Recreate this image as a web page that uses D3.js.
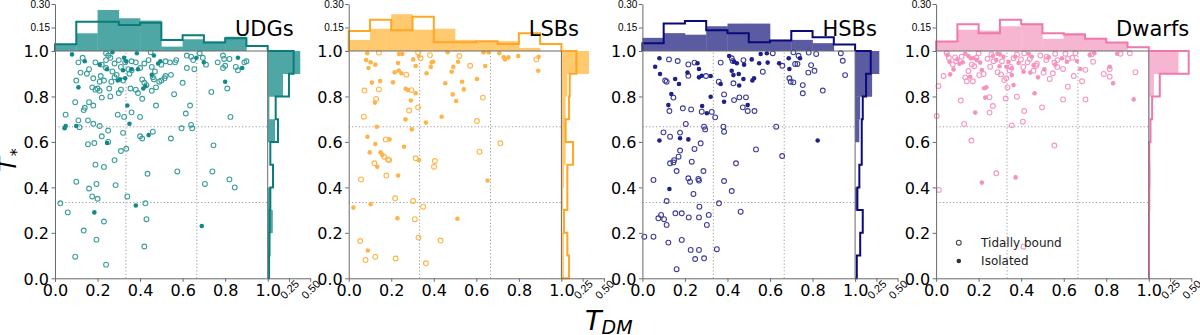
<!DOCTYPE html>
<html><head><meta charset="utf-8">
<script src="https://cdn.jsdelivr.net/npm/d3@7"></script>
<style>
html,body{margin:0;padding:0;background:#fff;}
svg{display:block;font-family:"DejaVu Sans",sans-serif;}
</style></head>
<body><svg id="c" width="1200" height="335"></svg>
<script>
// ---------------- DATA ----------------
const categories = ["UDGs", "LSBs", "HSBs", "Dwarfs"];
const binEdges = [0, 0.1, 0.2, 0.3, 0.4, 0.5, 0.6, 0.7, 0.8, 0.9, 1.0];
const xTicks = [0, 0.2, 0.4, 0.6, 0.8, 1.0];
const yTicks = [0, 0.2, 0.4, 0.6, 0.8, 1.0];
const topHistTicks = [0.15, 0.30];
const rightHistTicks = [0.25, 0.50];
const legendLabels = ["Tidally bound", "Isolated"];

// UDGs
const udgTidalX = [0.11,0.19,0.16,0.12,0.15,0.10,0.24,0.25,0.26,0.24,0.22,0.24,0.28,0.31,0.36,0.38,0.42,0.45,0.40,0.36,0.345,0.455,0.52,0.54,0.565,0.62,0.64,0.65,0.68,0.695,0.62,0.655,0.765,0.79,0.795,0.82,0.80,0.79,0.86,0.89,0.90,0.215,0.23,0.21,0.175,0.19,0.20,0.21,0.22,0.26,0.255,0.265,0.28,0.29,0.30,0.31,0.32,0.355,0.38,0.39,0.41,0.41,0.42,0.43,0.455,0.475,0.46,0.465,0.49,0.50,0.515,0.545,0.52,0.56,0.60,0.735,0.81,0.095,0.16,0.135,0.18,0.14,0.05,0.11,0.155,0.115,0.18,0.21,0.25,0.295,0.325,0.36,0.40,0.32,0.40,0.41,0.46,0.475,0.595,0.615,0.635,0.64,0.645,0.545,0.825,0.745,0.185,0.155,0.22,0.25,0.31,0.335,0.28,0.19,0.23,0.575,0.10,0.195,0.285,0.16,0.175,0.20,0.025,0.06,0.135,0.23,0.195,0.095,0.24,0.34,0.425,0.435,0.43,0.42,0.705,0.74,0.82,0.845,0.13,0.30,0.33,0.44,0.50,0.27,0.35,0.47,0.18,0.57,0.71,0.85];
const udgTidalY = [0.95,0.95,0.92,0.905,0.90,0.87,0.99,0.98,0.97,0.96,0.94,0.925,0.945,0.93,0.955,0.95,0.945,0.995,0.925,0.915,0.92,0.93,0.955,0.95,0.95,0.98,0.975,0.96,0.99,0.97,0.925,0.92,0.95,0.98,0.965,0.965,0.935,0.925,0.915,0.95,0.955,0.89,0.87,0.865,0.84,0.83,0.835,0.825,0.795,0.80,0.835,0.865,0.885,0.895,0.815,0.83,0.87,0.835,0.83,0.815,0.79,0.875,0.86,0.85,0.825,0.84,0.885,0.875,0.865,0.87,0.88,0.895,0.89,0.81,0.86,0.82,0.835,0.775,0.775,0.74,0.76,0.75,0.72,0.695,0.695,0.665,0.68,0.67,0.65,0.72,0.71,0.73,0.71,0.64,0.625,0.615,0.645,0.76,0.66,0.725,0.76,0.675,0.66,0.615,0.71,0.585,0.595,0.59,0.625,0.60,0.56,0.57,0.52,0.50,0.49,0.47,0.425,0.415,0.41,0.395,0.36,0.35,0.33,0.29,0.21,0.25,0.17,0.095,0.06,0.36,0.33,0.46,0.26,0.14,0.415,0.47,0.435,0.40,0.97,0.96,0.95,0.96,0.94,0.91,0.90,0.91,0.88,0.96,0.94,0.93];
const udgIsoX = [0.08,0.14,0.21,0.245,0.27,0.325,0.335,0.385,0.32,0.36,0.39,0.465,0.485,0.495,0.665,0.70,0.86,0.88,0.11,0.295,0.305,0.33,0.415,0.425,0.455,0.80,0.34,0.35,0.045,0.05,0.10,0.245,0.44,0.185,0.38,0.69];
const udgIsoY = [0.985,0.955,0.94,0.92,0.995,0.97,0.955,0.99,0.915,0.92,0.92,0.98,0.945,0.955,0.97,0.95,0.97,0.925,0.84,0.87,0.875,0.88,0.835,0.845,0.895,0.865,0.76,0.68,0.66,0.67,0.67,0.595,0.63,0.29,0.32,0.23];
const udgTopTidal = [0.043,0.187,0.187,0.166,0.181,0.070,0.100,0.055,0.081,0.032];
const udgTopIso = [0.038,0.113,0.262,0.209,0.194,0.028,0.075,0.060,0.091,0.0];
const udgRightTidal = [0.016,0.020,0.023,0.031,0.0625,0.031,0.121,0.094,0.250,0.305];
const udgRightIso = [0.0,0.03,0.06,0.03,0.0,0.0,0.086,0.02,0.18,0.383];

// LSBs
const lsbTidalX = [0.142,0.074,0.142,0.129,0.071,0.271,0.295,0.284,0.326,0.326,0.338,0.382,0.52,0.571,0.631,0.603,0.615,0.713,0.882,0.174,0.121,0.166,0.185,0.315,0.405,0.401,0.058,0.177,0.218,0.303,0.35,0.311,0.054,0.328,0.432,0.079,0.125,0.221,0.363,0.19];
const lsbTidalY = [0.993,0.826,0.831,0.789,0.711,0.896,0.828,0.738,0.752,0.994,0.968,0.982,0.978,0.935,0.795,0.692,0.557,0.594,0.963,0.611,0.506,0.535,0.523,0.528,0.516,0.491,0.435,0.452,0.352,0.34,0.315,0.26,0.164,0.179,0.166,0.081,0.095,0.087,0.066,0.52];
const lsbIsoX = [0.087,0.082,0.103,0.125,0.093,0.237,0.252,0.232,0.216,0.235,0.248,0.303,0.315,0.33,0.366,0.39,0.397,0.386,0.465,0.484,0.492,0.514,0.109,0.148,0.208,0.268,0.279,0.315,0.292,0.267,0.297,0.123,0.132,0.363,0.437,0.454,0.489,0.533,0.541,0.505,0.603,0.642,0.634,0.658,0.708,0.729,0.735,0.751,0.797,0.893,0.891,0.088,0.099,0.125,0.15,0.158,0.192,0.26,0.134,0.33,0.232,0.022,0.103,0.229,0.09,0.511,0.653];
const lsbIsoY = [0.99,0.96,0.95,0.94,0.925,0.987,0.987,0.947,0.906,0.914,0.902,0.963,0.934,0.978,0.902,0.95,0.953,0.93,0.994,0.909,0.93,0.953,0.861,0.868,0.862,0.834,0.828,0.814,0.782,0.699,0.655,0.773,0.667,0.685,0.711,0.858,0.809,0.865,0.831,0.78,0.877,0.934,0.994,0.994,0.99,0.972,0.963,0.972,0.978,0.975,0.913,0.623,0.554,0.591,0.554,0.543,0.611,0.579,0.491,0.52,0.452,0.311,0.326,0.264,0.122,0.262,0.43];
const lsbTopTidal = [0.127,0.200,0.132,0.218,0.056,0.056,0.063,0.045,0.114,0.045];
const lsbTopIso = [0.071,0.142,0.235,0.136,0.142,0.071,0.063,0.063,0.02,0.0];
const lsbRightTidal = [0.09,0.07,0.03,0.07,0.07,0.137,0.05,0.09,0.098,0.176];
const lsbRightIso = [0.03,0.03,0.01,0.02,0.03,0.05,0.05,0.05,0.07,0.324];

// HSBs
const hsbTidalX = [0.125,0.166,0.216,0.245,0.216,0.299,0.107,0.114,0.146,0.127,0.19,0.229,0.368,0.359,0.384,0.279,0.326,0.342,0.42,0.425,0.475,0.428,0.431,0.456,0.487,0.472,0.495,0.527,0.566,0.613,0.658,0.71,0.734,0.782,0.817,0.718,0.729,0.691,0.697,0.71,0.754,0.754,0.78,0.809,0.793,0.848,0.933,0.942,0.953,0.629,0.657,0.534,0.44,0.29,0.295,0.381,0.384,0.099,0.13,0.177,0.204,0.245,0.274,0.177,0.17,0.146,0.13,0.232,0.149,0.052,0.161,0.216,0.224,0.263,0.266,0.287,0.24,0.384,0.42,0.36,0.268,0.114,0.155,0.185,0.088,0.075,0.102,0.114,0.218,0.266,0.312,0.303,0.462,0.009,0.052,0.122,0.185,0.227,0.266,0.35,0.248,0.29,0.161];
const hsbTidalY = [0.963,0.956,0.941,0.949,0.891,0.89,0.87,0.865,0.795,0.736,0.748,0.743,0.949,0.865,0.809,0.733,0.732,0.708,0.968,0.956,0.96,0.858,0.784,0.796,0.796,0.752,0.736,0.736,0.909,0.99,0.935,0.994,0.979,0.993,0.987,0.943,0.943,0.88,0.865,0.862,0.85,0.814,0.905,0.913,0.938,0.826,0.99,0.957,0.894,0.667,0.538,0.567,0.506,0.667,0.655,0.667,0.645,0.642,0.623,0.641,0.679,0.569,0.594,0.562,0.535,0.51,0.506,0.513,0.52,0.433,0.472,0.44,0.425,0.437,0.43,0.472,0.371,0.428,0.384,0.33,0.315,0.34,0.286,0.286,0.279,0.264,0.26,0.235,0.268,0.268,0.279,0.235,0.293,0.183,0.183,0.157,0.169,0.125,0.125,0.128,0.085,0.088,0.04];
const hsbIsoX = [0.08,0.06,0.083,0.154,0.172,0.136,0.122,0.212,0.266,0.266,0.279,0.259,0.321,0.281,0.303,0.321,0.384,0.368,0.408,0.42,0.431,0.444,0.428,0.455,0.475,0.453,0.478,0.514,0.517,0.525,0.549,0.556,0.585,0.589,0.643,0.688,0.691,0.741,0.824,0.495,0.08,0.177,0.216,0.127];
const hsbIsoY = [0.968,0.931,0.899,0.877,0.855,0.811,0.762,0.905,0.921,0.884,0.891,0.946,0.89,0.758,0.726,0.799,0.777,0.855,0.978,0.913,0.953,0.946,0.894,0.848,0.877,0.899,0.94,0.963,0.87,0.88,0.946,0.987,0.99,0.949,0.946,0.968,0.921,0.968,0.606,0.762,0.606,0.616,0.611,0.393];
const hsbTopTidal = [0.05,0.175,0.192,0.132,0.114,0.056,0.067,0.127,0.088,0.041];
const hsbTopIso = [0.084,0.114,0.104,0.158,0.175,0.175,0.071,0.071,0.05,0.0];
const hsbRightTidal = [0.02,0.06,0.09,0.027,0.05,0.078,0.078,0.09,0.129,0.184];
const hsbRightIso = [0.0,0.0,0.0,0.027,0.0,0.0,0.05,0.06,0.2,0.285];

// Dwarfs
const dwfTidalX = [0.035,0.011,0.003,0.05,0.078,0.089,0.137,0.144,0.173,0.152,0.168,0.179,0.203,0.223,0.254,0.242,0.289,0.305,0.32,0.336,0.327,0.356,0.408,0.414,0.38,0.364,0.399,0.414,0.474,0.458,0.505,0.498,0.534,0.549,0.56,0.556,0.597,0.619,0.597,0.647,0.686,0.655,0.702,0.702,0.738,0.788,0.816,0.816,0.911,0.937,0.867,0.116,0.251,0.267,0.251,0.132,0.166,0.556,0.518,0.608,0.013,0.283,0.411,0.12,0.26,0.31,0.35,0.44,0.47,0.57,0.64,0.2,0.38,0.43,0.52,0.06,0.33,0.27,0.49,0.62,0.73,0.57,0.095,0.19,0.41,0.345];
const dwfTidalY = [0.89,0.846,0.714,0.99,0.941,0.972,0.884,0.867,0.867,0.912,0.941,0.933,0.894,0.899,0.931,0.966,0.907,0.897,0.872,0.84,0.791,0.673,0.689,0.736,0.799,0.968,0.963,0.99,0.944,0.913,0.905,0.752,0.877,0.902,0.988,0.949,0.921,0.843,0.787,0.89,0.867,0.99,0.917,0.787,0.953,0.899,0.921,0.887,0.99,0.907,0.988,0.782,0.797,0.758,0.729,0.679,0.606,0.584,0.96,0.988,0.389,0.462,0.139,0.975,0.985,0.955,0.93,0.965,0.935,0.96,0.97,0.99,0.985,0.95,0.975,0.97,0.88,0.955,0.98,0.965,0.985,0.93,0.955,0.97,0.93,0.915];
const dwfIsoX = [0.053,0.063,0.066,0.082,0.1,0.11,0.137,0.152,0.163,0.176,0.191,0.207,0.215,0.226,0.236,0.231,0.184,0.16,0.267,0.283,0.289,0.298,0.317,0.33,0.341,0.356,0.364,0.372,0.388,0.411,0.435,0.443,0.463,0.479,0.509,0.529,0.592,0.615,0.662,0.678,0.722,0.744,0.816,0.832,0.851,0.929,0.356,0.458,0.215,0.374,0.125,0.3,0.45,0.56];
const dwfIsoY = [0.982,0.953,0.897,0.919,0.963,0.944,0.988,0.978,0.968,0.968,0.96,0.949,0.916,0.836,0.84,0.795,0.729,0.887,0.978,0.96,0.988,0.933,0.975,0.931,0.953,0.924,0.85,0.975,0.947,0.909,0.988,0.905,0.814,0.884,0.919,0.972,0.968,0.953,0.956,0.921,0.982,0.99,0.931,0.858,0.988,0.787,0.894,0.937,0.421,0.444,0.95,0.985,0.975,0.94];
const dwfTopTidal = [0.06,0.17,0.114,0.20,0.17,0.114,0.106,0.078,0.054,0.024];
const dwfTopIso = [0.06,0.136,0.13,0.158,0.175,0.078,0.114,0.084,0.056,0.0];
const dwfRightTidal = [0.003,0.003,0.003,0.006,0.006,0.006,0.02,0.039,0.129,0.469];
const dwfRightIso = [0.0,0.0,0.0,0.0,0.02,0.0,0.0,0.01,0.06,0.35];

// ---------------- STYLE / LAYOUT ----------------
const panels = [
  {name: categories[0], tx: udgTidalX, ty: udgTidalY, ix: udgIsoX, iy: udgIsoY, topT: udgTopTidal, topI: udgTopIso, rT: udgRightTidal, rI: udgRightIso,
   line: "#0a7d7b", fill: "#4fa7a5", open: "#3c9e9b", dot: "#138a87"},
  {name: categories[1], tx: lsbTidalX, ty: lsbTidalY, ix: lsbIsoX, iy: lsbIsoY, topT: lsbTopTidal, topI: lsbTopIso, rT: lsbRightTidal, rI: lsbRightIso,
   line: "#ffa625", fill: "#ffc970", open: "#ffb447", dot: "#ffb447"},
  {name: categories[2], tx: hsbTidalX, ty: hsbTidalY, ix: hsbIsoX, iy: hsbIsoY, topT: hsbTopTidal, topI: hsbTopIso, rT: hsbRightTidal, rI: hsbRightIso,
   line: "#0a0a7a", fill: "#5b5ba2", open: "#3d3d98", dot: "#20208a"},
  {name: categories[3], tx: dwfTidalX, ty: dwfTidalY, ix: dwfIsoX, iy: dwfIsoY, topT: dwfTopTidal, topI: dwfTopIso, rT: dwfRightTidal, rI: dwfRightIso,
   line: "#ef78ad", fill: "#f6b5d1", open: "#f596c2", dot: "#f592bf"}
];

const svg = d3.select("#c");
const spine = "#6a6a6a";
const W0 = 55, STEP = 293.7, PW = 212.7, TOP = 51, BOT = 278.3, HTOP = 4, RW = 42.5;

panels.forEach((p, i) => {
  const L = W0 + i * STEP, R = L + PW;
  const x = d3.scaleLinear().domain([0, 1]).range([L, R]);
  const y = d3.scaleLinear().domain([0, 1]).range([BOT, TOP]);
  const ht = d3.scaleLinear().domain([0, 0.3]).range([TOP, HTOP]);
  const hr = d3.scaleLinear().domain([0, 0.5]).range([R, R + RW]);
  const g = svg.append("g");

  // dotted guides
  [1/3, 2/3].forEach(v => {
    g.append("line").attr("x1", x(v)).attr("x2", x(v)).attr("y1", y(0)).attr("y2", y(1))
      .attr("stroke", "#9a9a9a").attr("stroke-width", 1).attr("stroke-dasharray", "1.2,2.2");
    g.append("line").attr("x1", x(0)).attr("x2", x(1)).attr("y1", y(v)).attr("y2", y(v))
      .attr("stroke", "#9a9a9a").attr("stroke-width", 1).attr("stroke-dasharray", "1.2,2.2");
  });

  // top histogram
  const bins = d3.range(10);
  g.selectAll(".tf").data(bins).enter().append("rect")
    .attr("x", k => x(binEdges[k])).attr("width", k => x(binEdges[k+1]) - x(binEdges[k]) + 0.3)
    .attr("y", k => ht(p.topI[k])).attr("height", k => ht(0) - ht(p.topI[k]))
    .attr("fill", p.fill);
  const topPts = [[x(0), ht(0)]];
  bins.forEach(k => { topPts.push([x(binEdges[k]), ht(p.topT[k])]); topPts.push([x(binEdges[k+1]), ht(p.topT[k])]); });
  topPts.push([x(1), ht(0)]);
  g.append("path").attr("d", d3.line()(topPts)).attr("fill", "none").attr("stroke", p.line).attr("stroke-width", 2);

  // right histogram
  g.selectAll(".rf").data(bins).enter().append("rect")
    .attr("x", hr(0)).attr("width", k => hr(p.rI[k]) - hr(0))
    .attr("y", k => y(binEdges[k+1])).attr("height", k => y(binEdges[k]) - y(binEdges[k+1]) + 0.3)
    .attr("fill", p.fill);
  const rPts = [[hr(0), y(0)]];
  bins.forEach(k => { rPts.push([hr(p.rT[k]), y(binEdges[k])]); rPts.push([hr(p.rT[k]), y(binEdges[k+1])]); });
  rPts.push([hr(0), y(1)]);
  g.append("path").attr("d", d3.line()(rPts)).attr("fill", "none").attr("stroke", p.line).attr("stroke-width", 2);

  // scatter
  const tid = p.tx.map((v, k) => [v, p.ty[k]]);
  const iso = p.ix.map((v, k) => [v, p.iy[k]]);
  g.selectAll(".o").data(tid).enter().append("circle")
    .attr("cx", d => x(d[0])).attr("cy", d => y(d[1])).attr("r", 2.4)
    .attr("fill", "none").attr("stroke", p.open).attr("stroke-width", 1.1);
  g.selectAll(".f").data(iso).enter().append("circle")
    .attr("cx", d => x(d[0])).attr("cy", d => y(d[1])).attr("r", 2.3)
    .attr("fill", p.dot);

  // spines / box
  g.append("line").attr("x1", L).attr("x2", R).attr("y1", TOP).attr("y2", TOP).attr("stroke", spine).attr("stroke-width", 1);
  g.append("line").attr("x1", R).attr("x2", R).attr("y1", TOP).attr("y2", BOT).attr("stroke", spine).attr("stroke-width", 1);

  // axes
  const ax = g.append("g").attr("transform", `translate(0,${BOT})`)
    .call(d3.axisBottom(x).tickValues(xTicks).tickFormat(d3.format(".1f")).tickSize(3.5).tickSizeOuter(0));
  const ay = g.append("g").attr("transform", `translate(${L},0)`)
    .call(d3.axisLeft(y).tickValues(yTicks).tickFormat(d3.format(".1f")).tickSize(3.5).tickSizeOuter(0));
  [ax, ay].forEach(a => {
    a.select(".domain").attr("stroke", spine);
    a.selectAll(".tick line").attr("stroke", spine);
    a.selectAll("text").attr("font-size", 16).attr("font-family", "DejaVu Sans").attr("fill", "#000");
  });
  ax.selectAll("text").attr("dy", null).attr("y", 17.5);
  ay.selectAll("text").attr("x", -6).attr("dy", "0.36em");

  const aht = g.append("g").attr("transform", `translate(${L},0)`)
    .call(d3.axisLeft(ht).tickValues(topHistTicks).tickFormat(d3.format(".2f")).tickSize(3.5).tickSizeOuter(0));
  aht.select(".domain").attr("stroke", spine);
  aht.selectAll(".tick line").attr("stroke", spine);
  aht.selectAll("text").attr("font-size", 10).attr("fill", "#000").attr("x", -5);

  const ahr = g.append("g").attr("transform", `translate(0,${BOT})`)
    .call(d3.axisBottom(hr).tickValues(rightHistTicks).tickFormat(d3.format(".2f")).tickSize(3.5).tickSizeOuter(0));
  ahr.select(".domain").attr("stroke", spine);
  ahr.selectAll(".tick line").attr("stroke", spine);
  ahr.selectAll("text").attr("font-size", 11).attr("fill", "#000")
    .attr("y", 0).attr("dy", null).attr("text-anchor", "middle").attr("dominant-baseline", "central")
    .attr("transform", "translate(0,11) rotate(-45)");

  // title
  g.append("text").attr("x", L + 180).attr("y", 36).attr("font-size", 21).attr("fill", "#000").text(p.name);

  // legend
  if (i === 3) {
    const lx = L + 22.7, ly = [242.7, 261];
    g.append("circle").attr("cx", lx).attr("cy", ly[0]).attr("r", 2.4).attr("fill", "none").attr("stroke", "#444").attr("stroke-width", 1.1);
    g.append("circle").attr("cx", lx).attr("cy", ly[1]).attr("r", 2.3).attr("fill", "#333");
    legendLabels.forEach((t, k) => g.append("text").attr("x", L + 45).attr("y", ly[k]).attr("dy", "0.35em")
      .attr("font-size", 12).attr("fill", "#222").text(t));
  }
});

// axis titles
const xt = svg.append("text").attr("x", 585).attr("y", 330).attr("font-size", 27).attr("font-style", "italic").attr("fill", "#000");
xt.append("tspan").text("T");
xt.append("tspan").attr("font-size", 19).attr("dy", 4).text("DM");
const yt = svg.append("text").attr("transform", "translate(16,172) rotate(-90)").attr("font-size", 24).attr("font-style", "italic").attr("fill", "#000");
yt.append("tspan").text("T");
yt.append("tspan").attr("font-size", 16).attr("font-style", "normal").attr("dx", 1).attr("dy", 6).text("*");
</script></body></html>
